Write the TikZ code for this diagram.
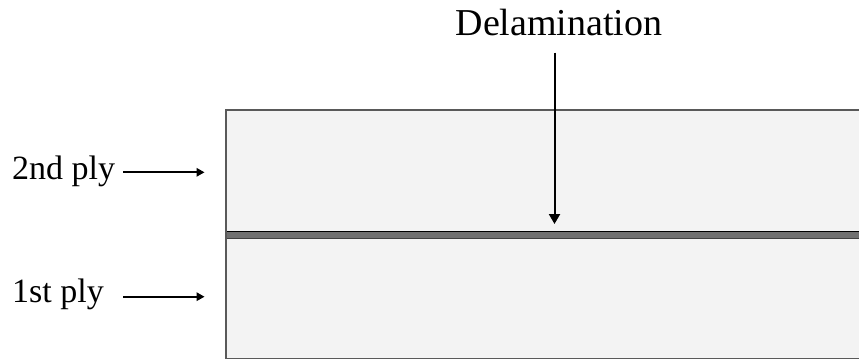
\documentclass[tikz,border=0pt]{standalone}
\usepackage{fontspec}
\setmainfont{Liberation Serif}
\usetikzlibrary{arrows.meta}
\definecolor{plyfill}{gray}{0.953}
\definecolor{plyedge}{gray}{0.35}
\definecolor{gapfill}{gray}{0.44}
\tikzset{
  label text/.style={inner sep=0pt, font=\fontsize{34}{40}\selectfont},
  title text/.style={inner sep=0pt, font=\fontsize{38}{44}\selectfont},
  pointer/.style={line width=1.7pt, -{Triangle[length=8pt,width=8.5pt]}},
  bigpointer/.style={line width=2pt, -{Triangle[length=10pt,width=11pt]}},
}
\begin{document}
\begin{tikzpicture}[x=1pt, y=-1pt]
  \useasboundingbox (0,0) rectangle (859,360);
  % the two plies as one laminate
  \fill[plyfill] (226,110) rectangle (870,358.5);
  \draw[plyedge, line width=1.5pt] (870,110) -- (226,110) -- (226,358.5) -- (870,358.5);
  % delamination layer between the plies
  \fill[gapfill] (226,231) rectangle (870,239);
  \draw[black, line width=1.5pt] (226,231.6) -- (870,231.6);
  \draw[black!75, line width=1.5pt] (226,238.4) -- (870,238.4);
  \draw[plyedge, line width=1.5pt] (226,231) -- (226,239);
  % labels
  \node[title text, anchor=base] (del) at (559,35) {Delamination};
  \node[label text, anchor=base west] (p2) at (12,179) {2nd ply};
  \node[label text, anchor=base west] (p1) at (12,302) {1st ply};
  % arrow end points
  \coordinate (d0) at (554.5,52.5);
  \coordinate (d1) at (554.5,224);
  \coordinate (a2) at (123,172.3);
  \coordinate (b2) at (204.5,172.3);
  \coordinate (a1) at (123,296.7);
  \coordinate (b1) at (204.5,296.7);
  \draw[bigpointer] (d0) -- (d1);
  \draw[pointer] (a2) -- (b2);
  \draw[pointer] (a1) -- (b1);
\end{tikzpicture}
\end{document}
